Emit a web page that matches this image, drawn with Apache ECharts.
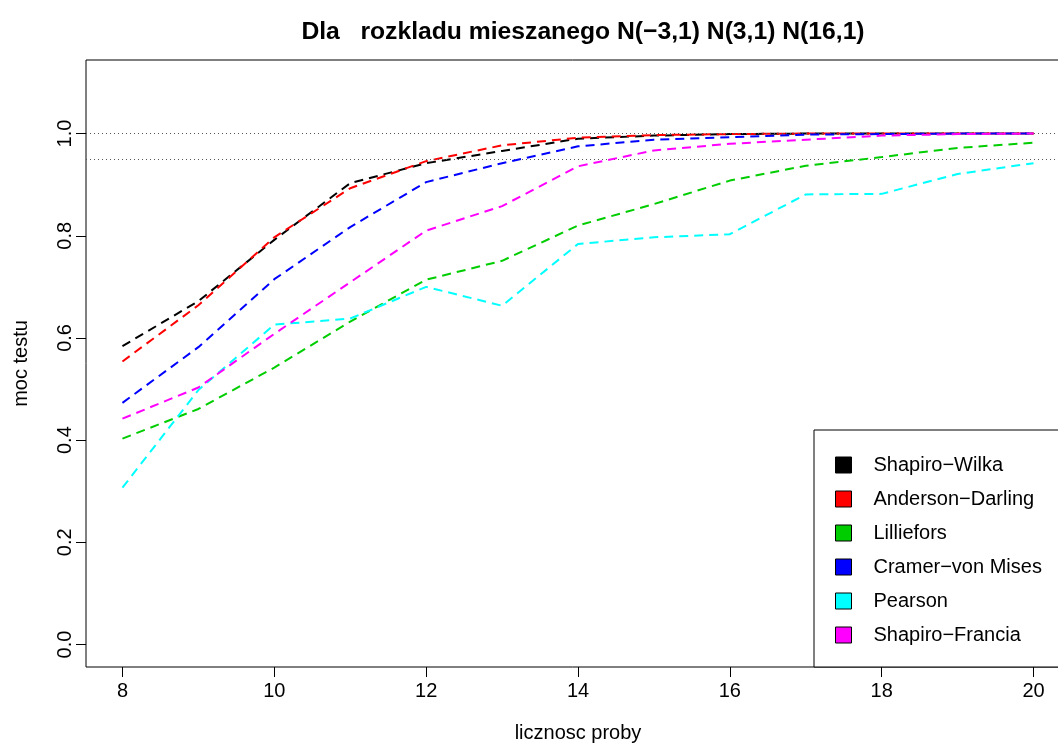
<!DOCTYPE html>
<html>
<head>
<meta charset="utf-8">
<script src="https://cdn.jsdelivr.net/npm/echarts@6.0.0/dist/echarts.min.js"></script>
<style>
html,body{margin:0;padding:0;background:#fff;}
#chart{width:1058px;height:744px;}
</style>
</head>
<body>
<div id="chart"></div>
<script>
// ---- data ----
const sampleSizes = [8, 9, 10, 11, 12, 13, 14, 15, 16, 17, 18, 19, 20];
const seriesNames = ['Shapiro\u2212Wilka', 'Anderson\u2212Darling', 'Lilliefors', 'Cramer\u2212von Mises', 'Pearson', 'Shapiro\u2212Francia'];
const shapiroWilk   = [0.584, 0.672, 0.792, 0.903, 0.942, 0.966, 0.990, 0.996, 0.999, 1.000, 1.000, 1.000, 1.000];
const andersonDarling = [0.554, 0.664, 0.797, 0.893, 0.946, 0.977, 0.992, 0.997, 0.999, 1.000, 1.000, 1.000, 1.000];
const lilliefors    = [0.403, 0.461, 0.542, 0.632, 0.714, 0.751, 0.820, 0.862, 0.908, 0.937, 0.954, 0.972, 0.982];
const cramerVonMises = [0.473, 0.582, 0.715, 0.817, 0.905, 0.942, 0.975, 0.988, 0.993, 0.998, 0.999, 1.000, 1.000];
const pearson       = [0.307, 0.498, 0.626, 0.638, 0.700, 0.663, 0.784, 0.797, 0.803, 0.881, 0.882, 0.921, 0.942];
const shapiroFrancia = [0.442, 0.503, 0.608, 0.709, 0.810, 0.858, 0.936, 0.967, 0.980, 0.988, 0.996, 0.999, 1.000];
const xTicks = [8, 10, 12, 14, 16, 18, 20];
const yTicks = [0, 0.2, 0.4, 0.6, 0.8, 1.0];
const refLines = [1.0, 0.95];
const colors = ['#000000', '#FF0000', '#00CD00', '#0000FF', '#00FFFF', '#FF00FF'];
const allValues = [shapiroWilk, andersonDarling, lilliefors, cramerVonMises, pearson, shapiroFrancia];

const FONT = '"Liberation Sans", Arial, Helvetica, sans-serif';
const chart = echarts.init(document.getElementById('chart'), null, {renderer: 'canvas'});

const series = allValues.map((vals, i) => {
  const s = {
    name: seriesNames[i],
    type: 'line',
    data: sampleSizes.map((x, j) => [x, vals[j]]),
    showSymbol: false,
    symbol: 'none',
    silent: true,
    animation: false,
    color: colors[i],
    lineStyle: {color: colors[i], width: 2, type: [9, 6]},
    itemStyle: {color: colors[i], borderColor: '#000', borderWidth: 1},
    z: 3 + i
  };
  if (i === 0) {
    s.markLine = {
      silent: true,
      symbol: ['none', 'none'],
      label: {show: false},
      animation: false,
      lineStyle: {color: '#555', type: [1, 3], width: 1},
      data: refLines.map(v => ({yAxis: v}))
    };
  }
  return s;
});

chart.setOption({
  animation: false,
  backgroundColor: '#fff',
  title: {
    text: 'Dla   rozkladu mieszanego N(\u22123,1) N(3,1) N(16,1)',
    left: 578,
    top: 15,
    textAlign: 'center',
    textStyle: {fontFamily: FONT, fontWeight: 'bold', fontSize: 24.7, color: '#000'}
  },
  legend: {
    orient: 'vertical',
    left: 814,
    top: 430,
    padding: [25, 300, 22, 21],
    itemWidth: 16,
    itemHeight: 16,
    itemGap: 14,
    icon: 'rect',
    backgroundColor: '#fff',
    borderColor: '#000',
    borderWidth: 1,
    borderRadius: 0,
    selectedMode: false,
    textStyle: {fontFamily: FONT, fontSize: 20, color: '#000', lineHeight: 16, padding: [0, 0, 0, 17]},
    data: seriesNames.map((n, i) => ({name: n, itemStyle: {color: colors[i], borderColor: '#000', borderWidth: 1}}))
  },
  grid: {
    left: 86, right: -12, top: 60, bottom: 77,
    show: true, borderColor: '#000', borderWidth: 1,
    containLabel: false,
    outerBoundsMode: 'none'
  },
  xAxis: {
    type: 'value',
    min: 7.52, max: 20.48,
    name: 'licznosc proby',
    nameLocation: 'middle',
    nameGap: 56,
    nameTextStyle: {fontFamily: FONT, fontSize: 20, color: '#000'},
    axisLine: {show: false, onZero: false},
    splitLine: {show: false},
    axisTick: {show: true, inside: false, length: 10, lineStyle: {color: '#000'}, customValues: xTicks},
    axisLabel: {fontFamily: FONT, fontSize: 20, color: '#000', margin: 14, customValues: xTicks}
  },
  yAxis: {
    type: 'value',
    min: -0.044, max: 1.144,
    name: 'moc testu',
    nameLocation: 'middle',
    nameGap: 55,
    nameTextStyle: {fontFamily: FONT, fontSize: 20, color: '#000'},
    axisLine: {show: false, onZero: false},
    splitLine: {show: false},
    axisTick: {show: true, inside: false, length: 10, lineStyle: {color: '#000'}, customValues: yTicks},
    axisLabel: {fontFamily: FONT, fontSize: 20, color: '#000', margin: 11, rotate: 90,
      customValues: yTicks, formatter: v => v.toFixed(1)}
  },
  series: series
});
</script>
</body>
</html>
